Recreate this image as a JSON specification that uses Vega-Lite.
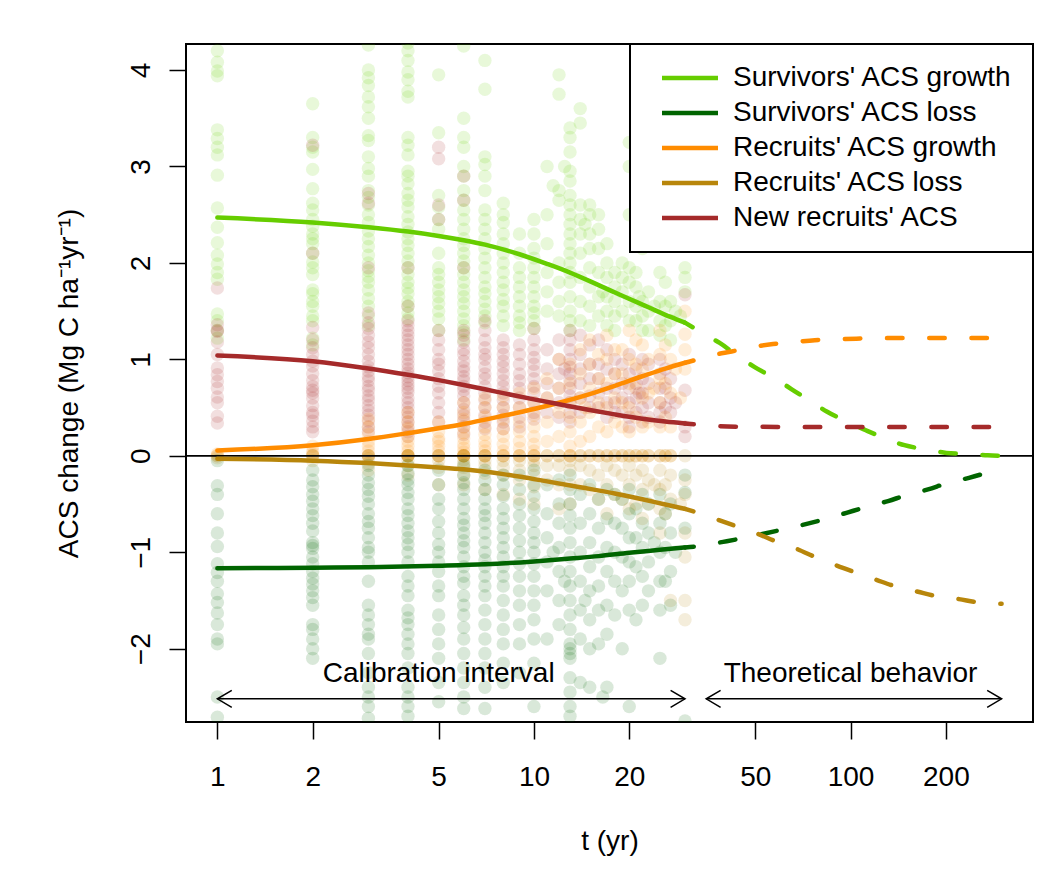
{
"$schema":"https://vega.github.io/schema/vega-lite/v6.json",
"width":847,"height":678,
"autosize":{"type":"none"},
"padding":{"left":186,"top":44,"right":20,"bottom":164},
"background":"white",
"config":{
 "font":"Liberation Sans",
 "view":{"stroke":"black","strokeWidth":2},
 "axis":{"grid":false,"domain":false,"tickColor":"black","tickWidth":1.5,"tickSize":17,"labelFontSize":28,"labelColor":"black","labelFont":"Liberation Sans","titleFont":"Liberation Sans","titleFontSize":28,"titleFontWeight":"normal","titleColor":"black","labelOverlap":false,"labelFlush":false},
 "legend":{"strokeWidth":2}
},
"encoding":{
 "x":{"field":"t","type":"quantitative","scale":{"type":"log","domain":[0.796,377],"nice":false},
      "axis":{"values":[1,2,5,10,20,50,100,200],"format":"d","title":"t (yr)","labelPadding":24,"titlePadding":36}},
 "y":{"field":"v","type":"quantitative","scale":{"domain":[-2.76,4.27],"nice":false,"zero":false},
      "axis":{"values":[-2,-1,0,1,2,3,4],"title":"ACS change (Mg C ha⁻¹yr⁻¹)","labelAngle":-90,"labelAlign":"center","labelBaseline":"alphabetic","labelPadding":20,"titlePadding":44}}
},
"datasets":{
"pts":[
{"t":1,"s":"SG","v":4.2},{"t":1,"s":"SG","v":4.08},{"t":1,"s":"SG","v":3.99},{"t":1,"s":"SG","v":3.94},{"t":1,"s":"SG","v":3.38},{"t":1,"s":"SG","v":3.29},{"t":1,"s":"SG","v":3.2},{"t":1,"s":"SG","v":3.12},{"t":1,"s":"SG","v":2.91},{"t":1,"s":"SG","v":2.57},{"t":1,"s":"SG","v":2.37},{"t":1,"s":"SG","v":2.21},{"t":1,"s":"SG","v":2.08},{"t":1,"s":"SG","v":1.99},{"t":1,"s":"SG","v":1.9},{"t":1,"s":"SG","v":1.83},{"t":1,"s":"SG","v":1.47},{"t":1,"s":"SG","v":1.4},{"t":1,"s":"SG","v":1.3},{"t":1,"s":"SG","v":1.22},
{"t":1,"s":"NR","v":1.74},{"t":1,"s":"NR","v":1.36},{"t":1,"s":"NR","v":1.29},{"t":1,"s":"NR","v":1.18},{"t":1,"s":"NR","v":1.05},{"t":1,"s":"NR","v":0.91},{"t":1,"s":"NR","v":0.84},{"t":1,"s":"NR","v":0.77},{"t":1,"s":"NR","v":0.7},{"t":1,"s":"NR","v":0.61},{"t":1,"s":"NR","v":0.55},{"t":1,"s":"NR","v":0.41},{"t":1,"s":"NR","v":0.34},{"t":1,"s":"NR","v":1.3},
{"t":1,"s":"RG","v":0},{"t":1,"s":"RG","v":0.02},{"t":1,"s":"RL","v":0},{"t":1,"s":"RL","v":-0.02},
{"t":1,"s":"SL","v":-0.05},{"t":1,"s":"SL","v":-0.31},{"t":1,"s":"SL","v":-0.4},{"t":1,"s":"SL","v":-0.6},{"t":1,"s":"SL","v":-0.8},{"t":1,"s":"SL","v":-0.94},{"t":1,"s":"SL","v":-1.12},{"t":1,"s":"SL","v":-1.21},{"t":1,"s":"SL","v":-1.3},{"t":1,"s":"SL","v":-1.43},{"t":1,"s":"SL","v":-1.52},{"t":1,"s":"SL","v":-1.63},{"t":1,"s":"SL","v":-1.75},{"t":1,"s":"SL","v":-1.9},{"t":1,"s":"SL","v":-1.95},{"t":1,"s":"SL","v":-2.5},{"t":1,"s":"SL","v":-2.71},
{"t":2,"s":"SG","v":3.65},{"t":2,"s":"SG","v":3.3},{"t":2,"s":"SG","v":3.2},{"t":2,"s":"SG","v":3.15},{"t":2,"s":"SG","v":2.97},{"t":2,"s":"SG","v":2.77},{"t":2,"s":"SG","v":2.62},{"t":2,"s":"SG","v":2.55},{"t":2,"s":"SG","v":2.45},{"t":2,"s":"SG","v":2.38},{"t":2,"s":"SG","v":2.3},{"t":2,"s":"SG","v":2.25},{"t":2,"s":"SG","v":2.2},{"t":2,"s":"SG","v":2.1},{"t":2,"s":"SG","v":2.01},{"t":2,"s":"SG","v":1.95},{"t":2,"s":"SG","v":1.88},{"t":2,"s":"SG","v":1.72},{"t":2,"s":"SG","v":1.68},{"t":2,"s":"SG","v":1.6},{"t":2,"s":"SG","v":1.55},{"t":2,"s":"SG","v":1.45},{"t":2,"s":"SG","v":1.4},{"t":2,"s":"SG","v":1.22},{"t":2,"s":"SG","v":1.15},
{"t":2,"s":"NR","v":3.22},{"t":2,"s":"NR","v":2.1},{"t":2,"s":"NR","v":1.33},{"t":2,"s":"NR","v":1.2},{"t":2,"s":"NR","v":1.12},{"t":2,"s":"NR","v":1.05},{"t":2,"s":"NR","v":0.98},{"t":2,"s":"NR","v":0.93},{"t":2,"s":"NR","v":0.85},{"t":2,"s":"NR","v":0.78},{"t":2,"s":"NR","v":0.72},{"t":2,"s":"NR","v":0.68},{"t":2,"s":"NR","v":0.65},{"t":2,"s":"NR","v":0.6},{"t":2,"s":"NR","v":0.52},{"t":2,"s":"NR","v":0.45},{"t":2,"s":"NR","v":0.42},{"t":2,"s":"NR","v":0.36},{"t":2,"s":"NR","v":0.3},{"t":2,"s":"NR","v":0.25},
{"t":2,"s":"RG","v":0},{"t":2,"s":"RG","v":0.02},{"t":2,"s":"RG","v":0.05},{"t":2,"s":"RG","v":0.1},{"t":2,"s":"RL","v":0},{"t":2,"s":"RL","v":0},{"t":2,"s":"RL","v":-0.05},
{"t":2,"s":"SL","v":-0.15},{"t":2,"s":"SL","v":-0.25},{"t":2,"s":"SL","v":-0.32},{"t":2,"s":"SL","v":-0.4},{"t":2,"s":"SL","v":-0.47},{"t":2,"s":"SL","v":-0.55},{"t":2,"s":"SL","v":-0.62},{"t":2,"s":"SL","v":-0.7},{"t":2,"s":"SL","v":-0.78},{"t":2,"s":"SL","v":-0.9},{"t":2,"s":"SL","v":-0.93},{"t":2,"s":"SL","v":-0.96},{"t":2,"s":"SL","v":-1.05},{"t":2,"s":"SL","v":-1.12},{"t":2,"s":"SL","v":-1.2},{"t":2,"s":"SL","v":-1.27},{"t":2,"s":"SL","v":-1.33},{"t":2,"s":"SL","v":-1.4},{"t":2,"s":"SL","v":-1.47},{"t":2,"s":"SL","v":-1.55},{"t":2,"s":"SL","v":-1.75},{"t":2,"s":"SL","v":-1.8},{"t":2,"s":"SL","v":-1.9},{"t":2,"s":"SL","v":-2.0},{"t":2,"s":"SL","v":-2.1},
{"t":3,"s":"SG","v":4.26},{"t":3,"s":"SG","v":4.0},{"t":3,"s":"SG","v":3.92},{"t":3,"s":"SG","v":3.84},{"t":3,"s":"SG","v":3.72},{"t":3,"s":"SG","v":3.62},{"t":3,"s":"SG","v":3.5},{"t":3,"s":"SG","v":3.32},{"t":3,"s":"SG","v":3.27},{"t":3,"s":"SG","v":3.1},{"t":3,"s":"SG","v":2.98},{"t":3,"s":"SG","v":2.9},{"t":3,"s":"SG","v":2.75},{"t":3,"s":"SG","v":2.68},{"t":3,"s":"SG","v":2.6},{"t":3,"s":"SG","v":2.5},{"t":3,"s":"SG","v":2.42},{"t":3,"s":"SG","v":2.33},{"t":3,"s":"SG","v":2.25},{"t":3,"s":"SG","v":2.17},{"t":3,"s":"SG","v":2.08},{"t":3,"s":"SG","v":2.0},{"t":3,"s":"SG","v":1.92},{"t":3,"s":"SG","v":1.86},{"t":3,"s":"SG","v":1.8},{"t":3,"s":"SG","v":1.72},{"t":3,"s":"SG","v":1.63},{"t":3,"s":"SG","v":1.55},{"t":3,"s":"SG","v":1.45},{"t":3,"s":"SG","v":1.35},
{"t":3,"s":"NR","v":2.72},{"t":3,"s":"NR","v":2.62},{"t":3,"s":"NR","v":1.95},{"t":3,"s":"NR","v":1.48},{"t":3,"s":"NR","v":1.38},{"t":3,"s":"NR","v":1.32},{"t":3,"s":"NR","v":1.25},{"t":3,"s":"NR","v":1.18},{"t":3,"s":"NR","v":1.12},{"t":3,"s":"NR","v":1.05},{"t":3,"s":"NR","v":0.98},{"t":3,"s":"NR","v":0.92},{"t":3,"s":"NR","v":0.88},{"t":3,"s":"NR","v":0.82},{"t":3,"s":"NR","v":0.78},{"t":3,"s":"NR","v":0.72},{"t":3,"s":"NR","v":0.68},{"t":3,"s":"NR","v":0.62},{"t":3,"s":"NR","v":0.58},{"t":3,"s":"NR","v":0.52},{"t":3,"s":"NR","v":0.47},{"t":3,"s":"NR","v":0.42},{"t":3,"s":"NR","v":0.36},{"t":3,"s":"NR","v":0.3},{"t":3,"s":"NR","v":0.25},
{"t":3,"s":"RG","v":0},{"t":3,"s":"RG","v":0},{"t":3,"s":"RG","v":0.05},{"t":3,"s":"RG","v":0.1},{"t":3,"s":"RG","v":0.15},{"t":3,"s":"RG","v":0.22},{"t":3,"s":"RG","v":0.3},{"t":3,"s":"RG","v":0.38},
{"t":3,"s":"RL","v":0},{"t":3,"s":"RL","v":0},{"t":3,"s":"RL","v":-0.03},{"t":3,"s":"RL","v":-0.08},{"t":3,"s":"RL","v":-0.15},
{"t":3,"s":"SL","v":-0.1},{"t":3,"s":"SL","v":-0.2},{"t":3,"s":"SL","v":-0.28},{"t":3,"s":"SL","v":-0.35},{"t":3,"s":"SL","v":-0.42},{"t":3,"s":"SL","v":-0.5},{"t":3,"s":"SL","v":-0.6},{"t":3,"s":"SL","v":-0.68},{"t":3,"s":"SL","v":-0.75},{"t":3,"s":"SL","v":-0.85},{"t":3,"s":"SL","v":-0.95},{"t":3,"s":"SL","v":-1.0},{"t":3,"s":"SL","v":-1.1},{"t":3,"s":"SL","v":-1.3},{"t":3,"s":"SL","v":-1.55},{"t":3,"s":"SL","v":-1.65},{"t":3,"s":"SL","v":-1.75},{"t":3,"s":"SL","v":-1.85},{"t":3,"s":"SL","v":-1.9},{"t":3,"s":"SL","v":-2.05},{"t":3,"s":"SL","v":-2.25},{"t":3,"s":"SL","v":-2.4},{"t":3,"s":"SL","v":-2.5},{"t":3,"s":"SL","v":-2.6},{"t":3,"s":"SL","v":-2.72},
{"t":4,"s":"SG","v":4.28},{"t":4,"s":"SG","v":4.2},{"t":4,"s":"SG","v":4.1},{"t":4,"s":"SG","v":3.98},{"t":4,"s":"SG","v":3.9},{"t":4,"s":"SG","v":3.78},{"t":4,"s":"SG","v":3.72},{"t":4,"s":"SG","v":3.3},{"t":4,"s":"SG","v":3.22},{"t":4,"s":"SG","v":3.12},{"t":4,"s":"SG","v":2.95},{"t":4,"s":"SG","v":2.9},{"t":4,"s":"SG","v":2.82},{"t":4,"s":"SG","v":2.72},{"t":4,"s":"SG","v":2.65},{"t":4,"s":"SG","v":2.58},{"t":4,"s":"SG","v":2.48},{"t":4,"s":"SG","v":2.4},{"t":4,"s":"SG","v":2.32},{"t":4,"s":"SG","v":2.25},{"t":4,"s":"SG","v":2.18},{"t":4,"s":"SG","v":2.1},{"t":4,"s":"SG","v":2.02},{"t":4,"s":"SG","v":1.95},{"t":4,"s":"SG","v":1.88},{"t":4,"s":"SG","v":1.8},{"t":4,"s":"SG","v":1.74},{"t":4,"s":"SG","v":1.68},{"t":4,"s":"SG","v":1.6},{"t":4,"s":"SG","v":1.55},{"t":4,"s":"SG","v":1.48},{"t":4,"s":"SG","v":1.42},
{"t":4,"s":"NR","v":1.95},{"t":4,"s":"NR","v":1.55},{"t":4,"s":"NR","v":1.4},{"t":4,"s":"NR","v":1.35},{"t":4,"s":"NR","v":1.3},{"t":4,"s":"NR","v":1.25},{"t":4,"s":"NR","v":1.2},{"t":4,"s":"NR","v":1.15},{"t":4,"s":"NR","v":1.1},{"t":4,"s":"NR","v":1.05},{"t":4,"s":"NR","v":1.0},{"t":4,"s":"NR","v":0.95},{"t":4,"s":"NR","v":0.9},{"t":4,"s":"NR","v":0.86},{"t":4,"s":"NR","v":0.82},{"t":4,"s":"NR","v":0.78},{"t":4,"s":"NR","v":0.74},{"t":4,"s":"NR","v":0.7},{"t":4,"s":"NR","v":0.66},{"t":4,"s":"NR","v":0.6},{"t":4,"s":"NR","v":0.55},{"t":4,"s":"NR","v":0.5},{"t":4,"s":"NR","v":0.45},{"t":4,"s":"NR","v":0.4},{"t":4,"s":"NR","v":0.35},{"t":4,"s":"NR","v":0.3},{"t":4,"s":"NR","v":0.25},{"t":4,"s":"NR","v":0.2},
{"t":4,"s":"RG","v":0},{"t":4,"s":"RG","v":0},{"t":4,"s":"RG","v":0},{"t":4,"s":"RG","v":0.05},{"t":4,"s":"RG","v":0.1},{"t":4,"s":"RG","v":0.15},{"t":4,"s":"RG","v":0.2},{"t":4,"s":"RG","v":0.28},{"t":4,"s":"RG","v":0.35},{"t":4,"s":"RG","v":0.45},
{"t":4,"s":"RL","v":0},{"t":4,"s":"RL","v":0},{"t":4,"s":"RL","v":0},{"t":4,"s":"RL","v":-0.05},{"t":4,"s":"RL","v":-0.1},{"t":4,"s":"RL","v":-0.2},
{"t":4,"s":"SL","v":-0.1},{"t":4,"s":"SL","v":-0.18},{"t":4,"s":"SL","v":-0.25},{"t":4,"s":"SL","v":-0.3},{"t":4,"s":"SL","v":-0.38},{"t":4,"s":"SL","v":-0.45},{"t":4,"s":"SL","v":-0.55},{"t":4,"s":"SL","v":-0.62},{"t":4,"s":"SL","v":-0.7},{"t":4,"s":"SL","v":-0.78},{"t":4,"s":"SL","v":-0.85},{"t":4,"s":"SL","v":-0.92},{"t":4,"s":"SL","v":-1.0},{"t":4,"s":"SL","v":-1.1},{"t":4,"s":"SL","v":-1.25},{"t":4,"s":"SL","v":-1.35},{"t":4,"s":"SL","v":-1.45},{"t":4,"s":"SL","v":-1.6},{"t":4,"s":"SL","v":-1.68},{"t":4,"s":"SL","v":-1.75},{"t":4,"s":"SL","v":-1.85},{"t":4,"s":"SL","v":-1.95},{"t":4,"s":"SL","v":-2.05},{"t":4,"s":"SL","v":-2.2},{"t":4,"s":"SL","v":-2.4},{"t":4,"s":"SL","v":-2.5},{"t":4,"s":"SL","v":-2.6},{"t":4,"s":"SL","v":-2.7},
{"t":5,"s":"SG","v":3.95},{"t":5,"s":"SG","v":3.35},{"t":5,"s":"SG","v":2.7},{"t":5,"s":"SG","v":2.58},{"t":5,"s":"SG","v":2.45},{"t":5,"s":"SG","v":2.35},{"t":5,"s":"SG","v":2.1},{"t":5,"s":"SG","v":1.95},{"t":5,"s":"SG","v":1.88},{"t":5,"s":"SG","v":1.8},{"t":5,"s":"SG","v":1.72},{"t":5,"s":"SG","v":1.65},{"t":5,"s":"SG","v":1.58},{"t":5,"s":"SG","v":1.5},{"t":5,"s":"SG","v":1.42},{"t":5,"s":"SG","v":1.3},
{"t":5,"s":"NR","v":3.2},{"t":5,"s":"NR","v":3.08},{"t":5,"s":"NR","v":2.6},{"t":5,"s":"NR","v":2.45},{"t":5,"s":"NR","v":1.3},{"t":5,"s":"NR","v":1.2},{"t":5,"s":"NR","v":1.1},{"t":5,"s":"NR","v":1.0},{"t":5,"s":"NR","v":0.95},{"t":5,"s":"NR","v":0.88},{"t":5,"s":"NR","v":0.8},{"t":5,"s":"NR","v":0.72},{"t":5,"s":"NR","v":0.65},{"t":5,"s":"NR","v":0.55},{"t":5,"s":"NR","v":0.45},{"t":5,"s":"NR","v":0.35},
{"t":5,"s":"RG","v":0},{"t":5,"s":"RG","v":0},{"t":5,"s":"RG","v":0.05},{"t":5,"s":"RG","v":0.1},{"t":5,"s":"RG","v":0.15},{"t":5,"s":"RG","v":0.18},{"t":5,"s":"RG","v":0.25},{"t":5,"s":"RG","v":0.35},
{"t":5,"s":"RL","v":0},{"t":5,"s":"RL","v":0},{"t":5,"s":"RL","v":-0.05},{"t":5,"s":"RL","v":-0.12},{"t":5,"s":"RL","v":-0.3},
{"t":5,"s":"SL","v":-0.15},{"t":5,"s":"SL","v":-0.3},{"t":5,"s":"SL","v":-0.45},{"t":5,"s":"SL","v":-0.55},{"t":5,"s":"SL","v":-0.68},{"t":5,"s":"SL","v":-0.8},{"t":5,"s":"SL","v":-0.92},{"t":5,"s":"SL","v":-1.0},{"t":5,"s":"SL","v":-1.1},{"t":5,"s":"SL","v":-1.2},{"t":5,"s":"SL","v":-1.35},{"t":5,"s":"SL","v":-1.45},{"t":5,"s":"SL","v":-1.65},{"t":5,"s":"SL","v":-1.8},{"t":5,"s":"SL","v":-1.95},{"t":5,"s":"SL","v":-2.1},{"t":5,"s":"SL","v":-2.35},{"t":5,"s":"SL","v":-2.55},
{"t":6,"s":"SG","v":4.25},{"t":6,"s":"SG","v":3.5},{"t":6,"s":"SG","v":3.3},{"t":6,"s":"SG","v":3.2},{"t":6,"s":"SG","v":3.0},{"t":6,"s":"SG","v":2.9},{"t":6,"s":"SG","v":2.75},{"t":6,"s":"SG","v":2.65},{"t":6,"s":"SG","v":2.55},{"t":6,"s":"SG","v":2.45},{"t":6,"s":"SG","v":2.35},{"t":6,"s":"SG","v":2.25},{"t":6,"s":"SG","v":2.18},{"t":6,"s":"SG","v":2.1},{"t":6,"s":"SG","v":2.02},{"t":6,"s":"SG","v":1.95},{"t":6,"s":"SG","v":1.88},{"t":6,"s":"SG","v":1.8},{"t":6,"s":"SG","v":1.72},{"t":6,"s":"SG","v":1.65},{"t":6,"s":"SG","v":1.58},{"t":6,"s":"SG","v":1.5},{"t":6,"s":"SG","v":1.42},{"t":6,"s":"SG","v":1.35},{"t":6,"s":"SG","v":1.28},{"t":6,"s":"SG","v":1.2},
{"t":6,"s":"NR","v":2.9},{"t":6,"s":"NR","v":2.65},{"t":6,"s":"NR","v":1.95},{"t":6,"s":"NR","v":1.3},{"t":6,"s":"NR","v":1.25},{"t":6,"s":"NR","v":1.18},{"t":6,"s":"NR","v":1.1},{"t":6,"s":"NR","v":1.05},{"t":6,"s":"NR","v":0.98},{"t":6,"s":"NR","v":0.92},{"t":6,"s":"NR","v":0.88},{"t":6,"s":"NR","v":0.82},{"t":6,"s":"NR","v":0.78},{"t":6,"s":"NR","v":0.72},{"t":6,"s":"NR","v":0.68},{"t":6,"s":"NR","v":0.62},{"t":6,"s":"NR","v":0.55},{"t":6,"s":"NR","v":0.48},{"t":6,"s":"NR","v":0.42},{"t":6,"s":"NR","v":0.36},{"t":6,"s":"NR","v":0.3},{"t":6,"s":"NR","v":0.22},
{"t":6,"s":"RG","v":0},{"t":6,"s":"RG","v":0},{"t":6,"s":"RG","v":0},{"t":6,"s":"RG","v":0.04},{"t":6,"s":"RG","v":0.08},{"t":6,"s":"RG","v":0.12},{"t":6,"s":"RG","v":0.18},{"t":6,"s":"RG","v":0.24},{"t":6,"s":"RG","v":0.3},{"t":6,"s":"RG","v":0.38},{"t":6,"s":"RG","v":0.45},{"t":6,"s":"RG","v":0.55},
{"t":6,"s":"RL","v":0},{"t":6,"s":"RL","v":0},{"t":6,"s":"RL","v":0},{"t":6,"s":"RL","v":-0.04},{"t":6,"s":"RL","v":-0.08},{"t":6,"s":"RL","v":-0.12},{"t":6,"s":"RL","v":-0.2},{"t":6,"s":"RL","v":-0.3},
{"t":6,"s":"SL","v":-0.1},{"t":6,"s":"SL","v":-0.2},{"t":6,"s":"SL","v":-0.28},{"t":6,"s":"SL","v":-0.35},{"t":6,"s":"SL","v":-0.45},{"t":6,"s":"SL","v":-0.55},{"t":6,"s":"SL","v":-0.65},{"t":6,"s":"SL","v":-0.72},{"t":6,"s":"SL","v":-0.8},{"t":6,"s":"SL","v":-0.88},{"t":6,"s":"SL","v":-0.95},{"t":6,"s":"SL","v":-1.05},{"t":6,"s":"SL","v":-1.15},{"t":6,"s":"SL","v":-1.25},{"t":6,"s":"SL","v":-1.32},{"t":6,"s":"SL","v":-1.45},{"t":6,"s":"SL","v":-1.55},{"t":6,"s":"SL","v":-1.65},{"t":6,"s":"SL","v":-1.78},{"t":6,"s":"SL","v":-1.9},{"t":6,"s":"SL","v":-2.05},{"t":6,"s":"SL","v":-2.2},{"t":6,"s":"SL","v":-2.35},{"t":6,"s":"SL","v":-2.5},{"t":6,"s":"SL","v":-2.62},
{"t":7,"s":"SG","v":4.1},{"t":7,"s":"SG","v":3.8},{"t":7,"s":"SG","v":3.1},{"t":7,"s":"SG","v":3.02},{"t":7,"s":"SG","v":2.9},{"t":7,"s":"SG","v":2.75},{"t":7,"s":"SG","v":2.55},{"t":7,"s":"SG","v":2.45},{"t":7,"s":"SG","v":2.35},{"t":7,"s":"SG","v":2.25},{"t":7,"s":"SG","v":2.15},{"t":7,"s":"SG","v":2.05},{"t":7,"s":"SG","v":1.95},{"t":7,"s":"SG","v":1.85},{"t":7,"s":"SG","v":1.75},{"t":7,"s":"SG","v":1.68},{"t":7,"s":"SG","v":1.6},{"t":7,"s":"SG","v":1.52},{"t":7,"s":"SG","v":1.45},{"t":7,"s":"SG","v":1.38},
{"t":7,"s":"NR","v":1.4},{"t":7,"s":"NR","v":1.3},{"t":7,"s":"NR","v":1.2},{"t":7,"s":"NR","v":1.12},{"t":7,"s":"NR","v":1.05},{"t":7,"s":"NR","v":1.0},{"t":7,"s":"NR","v":0.92},{"t":7,"s":"NR","v":0.85},{"t":7,"s":"NR","v":0.8},{"t":7,"s":"NR","v":0.72},{"t":7,"s":"NR","v":0.65},{"t":7,"s":"NR","v":0.58},{"t":7,"s":"NR","v":0.5},{"t":7,"s":"NR","v":0.42},{"t":7,"s":"NR","v":0.35},{"t":7,"s":"NR","v":0.28},
{"t":7,"s":"RG","v":0},{"t":7,"s":"RG","v":0},{"t":7,"s":"RG","v":0.05},{"t":7,"s":"RG","v":0.1},{"t":7,"s":"RG","v":0.15},{"t":7,"s":"RG","v":0.22},{"t":7,"s":"RG","v":0.3},{"t":7,"s":"RG","v":0.4},{"t":7,"s":"RG","v":0.5},{"t":7,"s":"RG","v":0.6},
{"t":7,"s":"RL","v":0},{"t":7,"s":"RL","v":0},{"t":7,"s":"RL","v":-0.05},{"t":7,"s":"RL","v":-0.1},{"t":7,"s":"RL","v":-0.18},{"t":7,"s":"RL","v":-0.35},
{"t":7,"s":"SL","v":-0.15},{"t":7,"s":"SL","v":-0.25},{"t":7,"s":"SL","v":-0.35},{"t":7,"s":"SL","v":-0.45},{"t":7,"s":"SL","v":-0.55},{"t":7,"s":"SL","v":-0.62},{"t":7,"s":"SL","v":-0.7},{"t":7,"s":"SL","v":-0.8},{"t":7,"s":"SL","v":-0.9},{"t":7,"s":"SL","v":-1.0},{"t":7,"s":"SL","v":-1.08},{"t":7,"s":"SL","v":-1.15},{"t":7,"s":"SL","v":-1.25},{"t":7,"s":"SL","v":-1.35},{"t":7,"s":"SL","v":-1.45},{"t":7,"s":"SL","v":-1.6},{"t":7,"s":"SL","v":-1.75},{"t":7,"s":"SL","v":-1.9},{"t":7,"s":"SL","v":-2.05},{"t":7,"s":"SL","v":-2.2},{"t":7,"s":"SL","v":-2.4},{"t":7,"s":"SL","v":-2.62},
{"t":8,"s":"SG","v":2.62},{"t":8,"s":"SG","v":2.5},{"t":8,"s":"SG","v":2.42},{"t":8,"s":"SG","v":2.3},{"t":8,"s":"SG","v":2.2},{"t":8,"s":"SG","v":2.1},{"t":8,"s":"SG","v":2.0},{"t":8,"s":"SG","v":1.9},{"t":8,"s":"SG","v":1.8},{"t":8,"s":"SG","v":1.72},{"t":8,"s":"SG","v":1.62},{"t":8,"s":"SG","v":1.55},{"t":8,"s":"SG","v":1.45},{"t":8,"s":"SG","v":1.35},
{"t":8,"s":"NR","v":1.2},{"t":8,"s":"NR","v":1.12},{"t":8,"s":"NR","v":1.05},{"t":8,"s":"NR","v":0.98},{"t":8,"s":"NR","v":0.92},{"t":8,"s":"NR","v":0.85},{"t":8,"s":"NR","v":0.78},{"t":8,"s":"NR","v":0.72},{"t":8,"s":"NR","v":0.65},{"t":8,"s":"NR","v":0.58},{"t":8,"s":"NR","v":0.5},{"t":8,"s":"NR","v":0.42},{"t":8,"s":"NR","v":0.35},{"t":8,"s":"NR","v":0.28},
{"t":8,"s":"RG","v":0},{"t":8,"s":"RG","v":0},{"t":8,"s":"RG","v":0.05},{"t":8,"s":"RG","v":0.12},{"t":8,"s":"RG","v":0.2},{"t":8,"s":"RG","v":0.28},{"t":8,"s":"RG","v":0.38},{"t":8,"s":"RG","v":0.5},{"t":8,"s":"RG","v":0.62},
{"t":8,"s":"RL","v":0},{"t":8,"s":"RL","v":-0.05},{"t":8,"s":"RL","v":-0.12},{"t":8,"s":"RL","v":-0.2},{"t":8,"s":"RL","v":-0.4},
{"t":8,"s":"SL","v":-0.2},{"t":8,"s":"SL","v":-0.3},{"t":8,"s":"SL","v":-0.42},{"t":8,"s":"SL","v":-0.55},{"t":8,"s":"SL","v":-0.65},{"t":8,"s":"SL","v":-0.75},{"t":8,"s":"SL","v":-0.85},{"t":8,"s":"SL","v":-0.95},{"t":8,"s":"SL","v":-1.05},{"t":8,"s":"SL","v":-1.15},{"t":8,"s":"SL","v":-1.25},{"t":8,"s":"SL","v":-1.35},{"t":8,"s":"SL","v":-1.5},{"t":8,"s":"SL","v":-1.65},{"t":8,"s":"SL","v":-1.8},{"t":8,"s":"SL","v":-1.95},{"t":8,"s":"SL","v":-2.15},{"t":8,"s":"SL","v":-2.35},
{"t":9,"s":"SG","v":2.3},{"t":9,"s":"SG","v":2.1},{"t":9,"s":"SG","v":1.95},{"t":9,"s":"SG","v":1.85},{"t":9,"s":"SG","v":1.75},{"t":9,"s":"SG","v":1.65},{"t":9,"s":"SG","v":1.55},{"t":9,"s":"SG","v":1.45},{"t":9,"s":"SG","v":1.38},{"t":9,"s":"SG","v":1.3},
{"t":9,"s":"NR","v":1.15},{"t":9,"s":"NR","v":1.05},{"t":9,"s":"NR","v":0.95},{"t":9,"s":"NR","v":0.85},{"t":9,"s":"NR","v":0.78},{"t":9,"s":"NR","v":0.7},{"t":9,"s":"NR","v":0.6},{"t":9,"s":"NR","v":0.5},{"t":9,"s":"NR","v":0.4},{"t":9,"s":"NR","v":0.3},
{"t":9,"s":"RG","v":0},{"t":9,"s":"RG","v":0},{"t":9,"s":"RG","v":0.08},{"t":9,"s":"RG","v":0.15},{"t":9,"s":"RG","v":0.25},{"t":9,"s":"RG","v":0.35},{"t":9,"s":"RG","v":0.5},{"t":9,"s":"RG","v":0.65},
{"t":9,"s":"RL","v":0},{"t":9,"s":"RL","v":-0.05},{"t":9,"s":"RL","v":-0.15},{"t":9,"s":"RL","v":-0.25},{"t":9,"s":"RL","v":-0.45},
{"t":9,"s":"SL","v":-0.2},{"t":9,"s":"SL","v":-0.35},{"t":9,"s":"SL","v":-0.5},{"t":9,"s":"SL","v":-0.62},{"t":9,"s":"SL","v":-0.75},{"t":9,"s":"SL","v":-0.88},{"t":9,"s":"SL","v":-1.0},{"t":9,"s":"SL","v":-1.12},{"t":9,"s":"SL","v":-1.25},{"t":9,"s":"SL","v":-1.4},{"t":9,"s":"SL","v":-1.55},{"t":9,"s":"SL","v":-1.75},{"t":9,"s":"SL","v":-1.95},{"t":9,"s":"SL","v":-2.25},
{"t":10,"s":"SG","v":2.45},{"t":10,"s":"SG","v":2.3},{"t":10,"s":"SG","v":2.15},{"t":10,"s":"SG","v":2.05},{"t":10,"s":"SG","v":1.95},{"t":10,"s":"SG","v":1.85},{"t":10,"s":"SG","v":1.75},{"t":10,"s":"SG","v":1.65},{"t":10,"s":"SG","v":1.55},{"t":10,"s":"SG","v":1.48},{"t":10,"s":"SG","v":1.4},{"t":10,"s":"SG","v":1.32},
{"t":10,"s":"NR","v":1.32},{"t":10,"s":"NR","v":1.2},{"t":10,"s":"NR","v":1.1},{"t":10,"s":"NR","v":1.02},{"t":10,"s":"NR","v":0.95},{"t":10,"s":"NR","v":0.88},{"t":10,"s":"NR","v":0.8},{"t":10,"s":"NR","v":0.72},{"t":10,"s":"NR","v":0.65},{"t":10,"s":"NR","v":0.55},{"t":10,"s":"NR","v":0.45},{"t":10,"s":"NR","v":0.38},
{"t":10,"s":"RG","v":0},{"t":10,"s":"RG","v":0},{"t":10,"s":"RG","v":0.05},{"t":10,"s":"RG","v":0.12},{"t":10,"s":"RG","v":0.2},{"t":10,"s":"RG","v":0.3},{"t":10,"s":"RG","v":0.42},{"t":10,"s":"RG","v":0.55},{"t":10,"s":"RG","v":0.7},
{"t":10,"s":"RL","v":0},{"t":10,"s":"RL","v":-0.05},{"t":10,"s":"RL","v":-0.1},{"t":10,"s":"RL","v":-0.2},{"t":10,"s":"RL","v":-0.32},{"t":10,"s":"RL","v":-0.5},
{"t":10,"s":"SL","v":-0.15},{"t":10,"s":"SL","v":-0.3},{"t":10,"s":"SL","v":-0.42},{"t":10,"s":"SL","v":-0.55},{"t":10,"s":"SL","v":-0.68},{"t":10,"s":"SL","v":-0.8},{"t":10,"s":"SL","v":-0.9},{"t":10,"s":"SL","v":-1.0},{"t":10,"s":"SL","v":-1.12},{"t":10,"s":"SL","v":-1.25},{"t":10,"s":"SL","v":-1.4},{"t":10,"s":"SL","v":-1.55},{"t":10,"s":"SL","v":-1.7},{"t":10,"s":"SL","v":-1.9},{"t":10,"s":"SL","v":-2.15},{"t":10,"s":"SL","v":-2.6},
{"t":11,"s":"SG","v":3.0},{"t":11,"s":"SG","v":2.5},{"t":11,"s":"SG","v":2.2},{"t":11,"s":"SG","v":1.9},{"t":11,"s":"SG","v":1.7},{"t":11,"s":"SG","v":1.5},
{"t":11,"s":"NR","v":1.1},{"t":11,"s":"NR","v":0.9},{"t":11,"s":"NR","v":0.75},{"t":11,"s":"NR","v":0.6},{"t":11,"s":"NR","v":0.45},
{"t":11,"s":"RG","v":0},{"t":11,"s":"RG","v":0.15},{"t":11,"s":"RG","v":0.35},{"t":11,"s":"RG","v":0.6},{"t":11,"s":"RG","v":0.8},
{"t":11,"s":"RL","v":0},{"t":11,"s":"RL","v":-0.1},{"t":11,"s":"RL","v":-0.25},
{"t":11,"s":"SL","v":-0.3},{"t":11,"s":"SL","v":-0.6},{"t":11,"s":"SL","v":-0.85},{"t":11,"s":"SL","v":-1.1},{"t":11,"s":"SL","v":-1.4},{"t":11,"s":"SL","v":-1.9},
{"t":12,"s":"SG","v":3.95},{"t":12,"s":"SG","v":3.75},{"t":12,"s":"SG","v":2.75},{"t":12,"s":"SG","v":2.65},{"t":12,"s":"SG","v":2.0},{"t":12,"s":"SG","v":1.8},{"t":12,"s":"SG","v":1.6},{"t":12,"s":"SG","v":1.45},
{"t":12,"s":"NR","v":1.2},{"t":12,"s":"NR","v":1.0},{"t":12,"s":"NR","v":0.85},{"t":12,"s":"NR","v":0.7},{"t":12,"s":"NR","v":0.55},{"t":12,"s":"NR","v":0.4},
{"t":12,"s":"RG","v":0},{"t":12,"s":"RG","v":0.2},{"t":12,"s":"RG","v":0.45},{"t":12,"s":"RG","v":0.7},{"t":12,"s":"RG","v":1.0},
{"t":12,"s":"RL","v":0},{"t":12,"s":"RL","v":-0.1},{"t":12,"s":"RL","v":-0.3},{"t":12,"s":"RL","v":-0.55},
{"t":12,"s":"SL","v":-0.25},{"t":12,"s":"SL","v":-0.5},{"t":12,"s":"SL","v":-0.7},{"t":12,"s":"SL","v":-0.95},{"t":12,"s":"SL","v":-1.2},{"t":12,"s":"SL","v":-1.5},{"t":12,"s":"SL","v":-1.75},
{"t":13,"s":"SG","v":3.4},{"t":13,"s":"SG","v":3.3},{"t":13,"s":"SG","v":3.15},{"t":13,"s":"SG","v":2.95},{"t":13,"s":"SG","v":2.85},{"t":13,"s":"SG","v":2.7},{"t":13,"s":"SG","v":2.6},{"t":13,"s":"SG","v":2.5},{"t":13,"s":"SG","v":2.4},{"t":13,"s":"SG","v":2.3},{"t":13,"s":"SG","v":2.2},{"t":13,"s":"SG","v":2.1},{"t":13,"s":"SG","v":2.0},{"t":13,"s":"SG","v":1.9},{"t":13,"s":"SG","v":1.8},{"t":13,"s":"SG","v":1.65},{"t":13,"s":"SG","v":1.5},{"t":13,"s":"SG","v":1.4},{"t":13,"s":"SG","v":1.3},
{"t":13,"s":"NR","v":1.3},{"t":13,"s":"NR","v":1.2},{"t":13,"s":"NR","v":1.1},{"t":13,"s":"NR","v":1.0},{"t":13,"s":"NR","v":0.92},{"t":13,"s":"NR","v":0.85},{"t":13,"s":"NR","v":0.78},{"t":13,"s":"NR","v":0.7},{"t":13,"s":"NR","v":0.62},{"t":13,"s":"NR","v":0.55},{"t":13,"s":"NR","v":0.45},{"t":13,"s":"NR","v":0.35},
{"t":13,"s":"RG","v":0},{"t":13,"s":"RG","v":0},{"t":13,"s":"RG","v":0.1},{"t":13,"s":"RG","v":0.25},{"t":13,"s":"RG","v":0.4},{"t":13,"s":"RG","v":0.55},{"t":13,"s":"RG","v":0.75},{"t":13,"s":"RG","v":0.95},
{"t":13,"s":"RL","v":0},{"t":13,"s":"RL","v":-0.05},{"t":13,"s":"RL","v":-0.15},{"t":13,"s":"RL","v":-0.3},{"t":13,"s":"RL","v":-0.5},
{"t":13,"s":"SL","v":-0.2},{"t":13,"s":"SL","v":-0.35},{"t":13,"s":"SL","v":-0.5},{"t":13,"s":"SL","v":-0.62},{"t":13,"s":"SL","v":-0.75},{"t":13,"s":"SL","v":-0.9},{"t":13,"s":"SL","v":-1.05},{"t":13,"s":"SL","v":-1.2},{"t":13,"s":"SL","v":-1.35},{"t":13,"s":"SL","v":-1.5},{"t":13,"s":"SL","v":-1.65},{"t":13,"s":"SL","v":-1.8},{"t":13,"s":"SL","v":-1.95},{"t":13,"s":"SL","v":-2.0},{"t":13,"s":"SL","v":-2.05},{"t":13,"s":"SL","v":-2.1},{"t":13,"s":"SL","v":-2.3},{"t":13,"s":"SL","v":-2.45},{"t":13,"s":"SL","v":-2.6},{"t":13,"s":"SL","v":-2.7},
{"t":14,"s":"SG","v":3.6},{"t":14,"s":"SG","v":3.45},{"t":14,"s":"SG","v":2.6},{"t":14,"s":"SG","v":2.45},{"t":14,"s":"SG","v":2.3},{"t":14,"s":"SG","v":2.1},{"t":14,"s":"SG","v":1.85},{"t":14,"s":"SG","v":1.6},{"t":14,"s":"SG","v":1.4},
{"t":14,"s":"NR","v":1.25},{"t":14,"s":"NR","v":1.05},{"t":14,"s":"NR","v":0.9},{"t":14,"s":"NR","v":0.75},{"t":14,"s":"NR","v":0.6},{"t":14,"s":"NR","v":0.45},
{"t":14,"s":"RG","v":0},{"t":14,"s":"RG","v":0.15},{"t":14,"s":"RG","v":0.35},{"t":14,"s":"RG","v":0.6},{"t":14,"s":"RG","v":0.85},{"t":14,"s":"RG","v":1.1},
{"t":14,"s":"RL","v":0},{"t":14,"s":"RL","v":-0.1},{"t":14,"s":"RL","v":-0.3},
{"t":14,"s":"SL","v":-0.4},{"t":14,"s":"SL","v":-0.7},{"t":14,"s":"SL","v":-1.0},{"t":14,"s":"SL","v":-1.3},{"t":14,"s":"SL","v":-1.6},{"t":14,"s":"SL","v":-1.9},{"t":14,"s":"SL","v":-2.35},
{"t":15,"s":"SG","v":2.6},{"t":15,"s":"SG","v":2.5},{"t":15,"s":"SG","v":2.3},{"t":15,"s":"SG","v":2.15},{"t":15,"s":"SG","v":1.95},{"t":15,"s":"SG","v":1.75},{"t":15,"s":"SG","v":1.55},{"t":15,"s":"SG","v":1.35},
{"t":15,"s":"NR","v":1.15},{"t":15,"s":"NR","v":0.95},{"t":15,"s":"NR","v":0.8},{"t":15,"s":"NR","v":0.62},{"t":15,"s":"NR","v":0.5},
{"t":15,"s":"RG","v":0},{"t":15,"s":"RG","v":0.2},{"t":15,"s":"RG","v":0.45},{"t":15,"s":"RG","v":0.7},{"t":15,"s":"RG","v":0.95},{"t":15,"s":"RG","v":1.2},
{"t":15,"s":"RL","v":0},{"t":15,"s":"RL","v":-0.15},{"t":15,"s":"RL","v":-0.35},
{"t":15,"s":"SL","v":-0.3},{"t":15,"s":"SL","v":-0.6},{"t":15,"s":"SL","v":-0.9},{"t":15,"s":"SL","v":-1.15},{"t":15,"s":"SL","v":-1.4},{"t":15,"s":"SL","v":-1.7},{"t":15,"s":"SL","v":-2.0},{"t":15,"s":"SL","v":-2.4},
{"t":16,"s":"SG","v":2.5},{"t":16,"s":"SG","v":2.35},{"t":16,"s":"SG","v":2.15},{"t":16,"s":"SG","v":1.9},{"t":16,"s":"SG","v":1.65},{"t":16,"s":"SG","v":1.45},
{"t":16,"s":"NR","v":1.2},{"t":16,"s":"NR","v":0.95},{"t":16,"s":"NR","v":0.8},{"t":16,"s":"NR","v":0.65},{"t":16,"s":"NR","v":0.5},
{"t":16,"s":"RG","v":0},{"t":16,"s":"RG","v":0.3},{"t":16,"s":"RG","v":0.55},{"t":16,"s":"RG","v":0.8},{"t":16,"s":"RG","v":1.05},
{"t":16,"s":"RL","v":0},{"t":16,"s":"RL","v":-0.2},{"t":16,"s":"RL","v":-0.45},
{"t":16,"s":"SL","v":-0.45},{"t":16,"s":"SL","v":-0.75},{"t":16,"s":"SL","v":-1.05},{"t":16,"s":"SL","v":-1.35},{"t":16,"s":"SL","v":-1.6},{"t":16,"s":"SL","v":-1.95},
{"t":17,"s":"SG","v":2.2},{"t":17,"s":"SG","v":2.0},{"t":17,"s":"SG","v":1.85},{"t":17,"s":"SG","v":1.65},{"t":17,"s":"SG","v":1.5},{"t":17,"s":"SG","v":1.35},
{"t":17,"s":"NR","v":1.1},{"t":17,"s":"NR","v":0.9},{"t":17,"s":"NR","v":0.7},{"t":17,"s":"NR","v":0.55},{"t":17,"s":"NR","v":0.4},
{"t":17,"s":"RG","v":0},{"t":17,"s":"RG","v":0.25},{"t":17,"s":"RG","v":0.5},{"t":17,"s":"RG","v":0.75},{"t":17,"s":"RG","v":1.0},{"t":17,"s":"RG","v":1.25},
{"t":17,"s":"RL","v":0},{"t":17,"s":"RL","v":-0.1},{"t":17,"s":"RL","v":-0.3},{"t":17,"s":"RL","v":-0.6},
{"t":17,"s":"SL","v":-0.35},{"t":17,"s":"SL","v":-0.65},{"t":17,"s":"SL","v":-0.95},{"t":17,"s":"SL","v":-1.2},{"t":17,"s":"SL","v":-1.55},{"t":17,"s":"SL","v":-1.85},{"t":17,"s":"SL","v":-2.4},
{"t":18,"s":"SG","v":1.9},{"t":18,"s":"SG","v":1.75},{"t":18,"s":"SG","v":1.6},{"t":18,"s":"SG","v":1.45},{"t":18,"s":"SG","v":1.3},
{"t":18,"s":"NR","v":1.0},{"t":18,"s":"NR","v":0.85},{"t":18,"s":"NR","v":0.7},{"t":18,"s":"NR","v":0.55},{"t":18,"s":"NR","v":0.45},
{"t":18,"s":"RG","v":0},{"t":18,"s":"RG","v":0.35},{"t":18,"s":"RG","v":0.6},{"t":18,"s":"RG","v":0.85},{"t":18,"s":"RG","v":1.1},
{"t":18,"s":"RL","v":0},{"t":18,"s":"RL","v":-0.15},{"t":18,"s":"RL","v":-0.4},
{"t":18,"s":"SL","v":-0.4},{"t":18,"s":"SL","v":-0.7},{"t":18,"s":"SL","v":-1.0},{"t":18,"s":"SL","v":-1.3},{"t":18,"s":"SL","v":-1.65},
{"t":19,"s":"SG","v":2.0},{"t":19,"s":"SG","v":1.85},{"t":19,"s":"SG","v":1.7},{"t":19,"s":"SG","v":1.5},
{"t":19,"s":"NR","v":0.95},{"t":19,"s":"NR","v":0.75},{"t":19,"s":"NR","v":0.6},{"t":19,"s":"NR","v":0.45},
{"t":19,"s":"RG","v":0},{"t":19,"s":"RG","v":0.3},{"t":19,"s":"RG","v":0.55},{"t":19,"s":"RG","v":0.85},{"t":19,"s":"RG","v":1.1},
{"t":19,"s":"RL","v":0},{"t":19,"s":"RL","v":-0.2},{"t":19,"s":"RL","v":-0.45},
{"t":19,"s":"SL","v":-0.45},{"t":19,"s":"SL","v":-0.75},{"t":19,"s":"SL","v":-1.05},{"t":19,"s":"SL","v":-1.4},{"t":19,"s":"SL","v":-2.0},
{"t":20,"s":"SG","v":3.25},{"t":20,"s":"SG","v":3.0},{"t":20,"s":"SG","v":2.5},{"t":20,"s":"SG","v":1.95},{"t":20,"s":"SG","v":1.8},{"t":20,"s":"SG","v":1.6},{"t":20,"s":"SG","v":1.4},
{"t":20,"s":"NR","v":1.05},{"t":20,"s":"NR","v":0.85},{"t":20,"s":"NR","v":0.7},{"t":20,"s":"NR","v":0.55},{"t":20,"s":"NR","v":0.4},{"t":20,"s":"NR","v":0.3},
{"t":20,"s":"RG","v":0},{"t":20,"s":"RG","v":0.25},{"t":20,"s":"RG","v":0.5},{"t":20,"s":"RG","v":0.75},{"t":20,"s":"RG","v":1.0},{"t":20,"s":"RG","v":1.3},
{"t":20,"s":"RL","v":0},{"t":20,"s":"RL","v":-0.1},{"t":20,"s":"RL","v":-0.3},{"t":20,"s":"RL","v":-0.55},
{"t":20,"s":"SL","v":-0.35},{"t":20,"s":"SL","v":-0.6},{"t":20,"s":"SL","v":-0.85},{"t":20,"s":"SL","v":-1.1},{"t":20,"s":"SL","v":-1.3},{"t":20,"s":"SL","v":-1.6},{"t":20,"s":"SL","v":-2.6},
{"t":21,"s":"SG","v":1.9},{"t":21,"s":"SG","v":1.75},{"t":21,"s":"SG","v":1.55},{"t":21,"s":"SG","v":1.4},
{"t":21,"s":"NR","v":0.9},{"t":21,"s":"NR","v":0.75},{"t":21,"s":"NR","v":0.6},{"t":21,"s":"NR","v":0.45},
{"t":21,"s":"RG","v":0},{"t":21,"s":"RG","v":0.4},{"t":21,"s":"RG","v":0.7},{"t":21,"s":"RG","v":0.95},{"t":21,"s":"RG","v":1.2},
{"t":21,"s":"RL","v":0},{"t":21,"s":"RL","v":-0.2},{"t":21,"s":"RL","v":-0.5},
{"t":21,"s":"SL","v":-0.55},{"t":21,"s":"SL","v":-0.85},{"t":21,"s":"SL","v":-1.15},{"t":21,"s":"SL","v":-1.7},
{"t":22,"s":"SG","v":2.15},{"t":22,"s":"SG","v":1.6},{"t":22,"s":"SG","v":1.45},{"t":22,"s":"SG","v":1.3},
{"t":22,"s":"NR","v":1.0},{"t":22,"s":"NR","v":0.8},{"t":22,"s":"NR","v":0.65},{"t":22,"s":"NR","v":0.5},{"t":22,"s":"NR","v":0.35},
{"t":22,"s":"RG","v":0},{"t":22,"s":"RG","v":0.3},{"t":22,"s":"RG","v":0.6},{"t":22,"s":"RG","v":0.9},{"t":22,"s":"RG","v":1.15},
{"t":22,"s":"RL","v":0},{"t":22,"s":"RL","v":-0.15},{"t":22,"s":"RL","v":-0.35},{"t":22,"s":"RL","v":-0.65},
{"t":22,"s":"SL","v":-0.4},{"t":22,"s":"SL","v":-0.7},{"t":22,"s":"SL","v":-0.95},{"t":22,"s":"SL","v":-1.25},{"t":22,"s":"SL","v":-1.55},
{"t":23,"s":"SG","v":2.3},{"t":23,"s":"SG","v":1.7},{"t":23,"s":"SG","v":1.5},{"t":23,"s":"SG","v":1.3},
{"t":23,"s":"NR","v":0.95},{"t":23,"s":"NR","v":0.75},{"t":23,"s":"NR","v":0.55},{"t":23,"s":"NR","v":0.4},
{"t":23,"s":"RG","v":0},{"t":23,"s":"RG","v":0.35},{"t":23,"s":"RG","v":0.65},{"t":23,"s":"RG","v":1.0},
{"t":23,"s":"RL","v":0},{"t":23,"s":"RL","v":-0.25},{"t":23,"s":"RL","v":-0.5},
{"t":23,"s":"SL","v":-0.5},{"t":23,"s":"SL","v":-0.8},{"t":23,"s":"SL","v":-1.1},{"t":23,"s":"SL","v":-1.4},
{"t":25,"s":"SG","v":2.2},{"t":25,"s":"SG","v":1.9},{"t":25,"s":"SG","v":1.6},{"t":25,"s":"SG","v":1.4},{"t":25,"s":"SG","v":1.25},
{"t":25,"s":"NR","v":1.0},{"t":25,"s":"NR","v":0.85},{"t":25,"s":"NR","v":0.7},{"t":25,"s":"NR","v":0.55},{"t":25,"s":"NR","v":0.45},{"t":25,"s":"NR","v":0.35},
{"t":25,"s":"RG","v":0},{"t":25,"s":"RG","v":0.3},{"t":25,"s":"RG","v":0.55},{"t":25,"s":"RG","v":0.8},{"t":25,"s":"RG","v":1.05},{"t":25,"s":"RG","v":1.3},
{"t":25,"s":"RL","v":0},{"t":25,"s":"RL","v":-0.15},{"t":25,"s":"RL","v":-0.35},{"t":25,"s":"RL","v":-0.55},{"t":25,"s":"RL","v":-0.8},
{"t":25,"s":"SL","v":-0.4},{"t":25,"s":"SL","v":-0.7},{"t":25,"s":"SL","v":-1.0},{"t":25,"s":"SL","v":-1.3},{"t":25,"s":"SL","v":-1.6},{"t":25,"s":"SL","v":-2.1},
{"t":26,"s":"SG","v":1.8},{"t":26,"s":"SG","v":1.55},{"t":26,"s":"SG","v":1.35},
{"t":26,"s":"NR","v":0.9},{"t":26,"s":"NR","v":0.7},{"t":26,"s":"NR","v":0.5},
{"t":26,"s":"RG","v":0},{"t":26,"s":"RG","v":0.4},{"t":26,"s":"RG","v":0.75},{"t":26,"s":"RG","v":1.15},
{"t":26,"s":"RL","v":0},{"t":26,"s":"RL","v":-0.3},{"t":26,"s":"RL","v":-0.6},
{"t":26,"s":"SL","v":-0.6},{"t":26,"s":"SL","v":-0.95},{"t":26,"s":"SL","v":-1.3},
{"t":27,"s":"SG","v":1.6},{"t":27,"s":"SG","v":1.4},{"t":27,"s":"SG","v":1.2},
{"t":27,"s":"NR","v":0.8},{"t":27,"s":"NR","v":0.6},{"t":27,"s":"NR","v":0.45},
{"t":27,"s":"RG","v":0},{"t":27,"s":"RG","v":0.3},{"t":27,"s":"RG","v":0.65},{"t":27,"s":"RG","v":1.0},
{"t":27,"s":"RL","v":0},{"t":27,"s":"RL","v":-0.2},{"t":27,"s":"RL","v":-0.45},{"t":27,"s":"RL","v":-1.5},
{"t":27,"s":"SL","v":-0.5},{"t":27,"s":"SL","v":-0.8},{"t":27,"s":"SL","v":-1.2},{"t":27,"s":"SL","v":-1.55},
{"t":30,"s":"SG","v":1.95},{"t":30,"s":"SG","v":1.85},{"t":30,"s":"SG","v":1.7},
{"t":30,"s":"NR","v":1.67},{"t":30,"s":"NR","v":0.68},{"t":30,"s":"NR","v":0.3},{"t":30,"s":"NR","v":0.2},
{"t":30,"s":"RG","v":1.26},{"t":30,"s":"RG","v":1.5},{"t":30,"s":"RG","v":0.9},{"t":30,"s":"RG","v":1.1},
{"t":30,"s":"RL","v":0},{"t":30,"s":"RL","v":-0.25},{"t":30,"s":"RL","v":-0.4},{"t":30,"s":"RL","v":-0.8},{"t":30,"s":"RL","v":-1.05},{"t":30,"s":"RL","v":-1.5},{"t":30,"s":"RL","v":-1.7},
{"t":30,"s":"SL","v":-0.2},{"t":30,"s":"SL","v":-0.38},{"t":30,"s":"SL","v":-0.75},{"t":30,"s":"SL","v":-2.75},
{"t":11.5,"s":"SG","v":2.8},{"t":11.5,"s":"SL","v":-1.0},{"t":12.5,"s":"SG","v":3.0},{"t":12.5,"s":"NR","v":0.9},{"t":12.5,"s":"SL","v":-1.3},{"t":14.5,"s":"SG","v":2.4},{"t":14.5,"s":"RG","v":0.5},{"t":14.5,"s":"SL","v":-1.5},{"t":16.5,"s":"SG","v":1.7},{"t":16.5,"s":"SL","v":-2.5},{"t":21.5,"s":"SG","v":1.65},{"t":21.5,"s":"NR","v":0.65},{"t":24,"s":"SG","v":1.55},{"t":24,"s":"RG","v":0.7},{"t":24,"s":"SL","v":-0.9},{"t":24,"s":"RL","v":-0.3},{"t":28,"s":"SG","v":1.5},{"t":28,"s":"NR","v":0.55},{"t":28,"s":"RG","v":0.9},{"t":28,"s":"SL","v":-1.0},{"t":29,"s":"SG","v":1.45},{"t":29,"s":"RG","v":0.6},{"t":29,"s":"RL","v":-0.5}
],
"lines":[
{"s":"Survivors' ACS growth","ph":"cal","t":1,"v":2.47},{"s":"Survivors' ACS growth","ph":"cal","t":2,"v":2.42},{"s":"Survivors' ACS growth","ph":"cal","t":3,"v":2.37},{"s":"Survivors' ACS growth","ph":"cal","t":4,"v":2.325},{"s":"Survivors' ACS growth","ph":"cal","t":5,"v":2.28},{"s":"Survivors' ACS growth","ph":"cal","t":6,"v":2.235},{"s":"Survivors' ACS growth","ph":"cal","t":7,"v":2.19},{"s":"Survivors' ACS growth","ph":"cal","t":9,"v":2.09},{"s":"Survivors' ACS growth","ph":"cal","t":11,"v":1.99},{"s":"Survivors' ACS growth","ph":"cal","t":13,"v":1.9},{"s":"Survivors' ACS growth","ph":"cal","t":16,"v":1.77},{"s":"Survivors' ACS growth","ph":"cal","t":19,"v":1.66},{"s":"Survivors' ACS growth","ph":"cal","t":23,"v":1.54},{"s":"Survivors' ACS growth","ph":"cal","t":27,"v":1.44},{"s":"Survivors' ACS growth","ph":"cal","t":30,"v":1.38},
{"s":"Survivors' ACS growth","ph":"theo","t":30,"v":1.38},{"s":"Survivors' ACS growth","ph":"theo","t":34.6,"v":1.26},{"s":"Survivors' ACS growth","ph":"theo","t":38.6,"v":1.17},{"s":"Survivors' ACS growth","ph":"theo","t":44.7,"v":1.02},{"s":"Survivors' ACS growth","ph":"theo","t":49.8,"v":0.92},{"s":"Survivors' ACS growth","ph":"theo","t":58.5,"v":0.79},{"s":"Survivors' ACS growth","ph":"theo","t":65.2,"v":0.69},{"s":"Survivors' ACS growth","ph":"theo","t":76,"v":0.55},{"s":"Survivors' ACS growth","ph":"theo","t":84.1,"v":0.46},{"s":"Survivors' ACS growth","ph":"theo","t":99.4,"v":0.34},{"s":"Survivors' ACS growth","ph":"theo","t":110.9,"v":0.27},{"s":"Survivors' ACS growth","ph":"theo","t":131,"v":0.17},{"s":"Survivors' ACS growth","ph":"theo","t":148,"v":0.11},{"s":"Survivors' ACS growth","ph":"theo","t":178,"v":0.06},{"s":"Survivors' ACS growth","ph":"theo","t":201,"v":0.03},{"s":"Survivors' ACS growth","ph":"theo","t":241,"v":0.018},{"s":"Survivors' ACS growth","ph":"theo","t":271,"v":0.005},{"s":"Survivors' ACS growth","ph":"theo","t":300,"v":0.0},
{"s":"Survivors' ACS loss","ph":"cal","t":1,"v":-1.165},{"s":"Survivors' ACS loss","ph":"cal","t":2,"v":-1.16},{"s":"Survivors' ACS loss","ph":"cal","t":3,"v":-1.155},{"s":"Survivors' ACS loss","ph":"cal","t":5,"v":-1.14},{"s":"Survivors' ACS loss","ph":"cal","t":7,"v":-1.125},{"s":"Survivors' ACS loss","ph":"cal","t":10,"v":-1.095},{"s":"Survivors' ACS loss","ph":"cal","t":13,"v":-1.065},{"s":"Survivors' ACS loss","ph":"cal","t":16,"v":-1.04},{"s":"Survivors' ACS loss","ph":"cal","t":20,"v":-1.005},{"s":"Survivors' ACS loss","ph":"cal","t":25,"v":-0.975},{"s":"Survivors' ACS loss","ph":"cal","t":30,"v":-0.95},
{"s":"Survivors' ACS loss","ph":"theo","t":30,"v":-0.95},{"s":"Survivors' ACS loss","ph":"theo","t":33.4,"v":-0.935},{"s":"Survivors' ACS loss","ph":"theo","t":39.6,"v":-0.892},{"s":"Survivors' ACS loss","ph":"theo","t":45.2,"v":-0.857},{"s":"Survivors' ACS loss","ph":"theo","t":53.6,"v":-0.805},{"s":"Survivors' ACS loss","ph":"theo","t":61.2,"v":-0.763},{"s":"Survivors' ACS loss","ph":"theo","t":72.2,"v":-0.708},{"s":"Survivors' ACS loss","ph":"theo","t":82.3,"v":-0.66},{"s":"Survivors' ACS loss","ph":"theo","t":97.1,"v":-0.591},{"s":"Survivors' ACS loss","ph":"theo","t":110.9,"v":-0.535},{"s":"Survivors' ACS loss","ph":"theo","t":131.4,"v":-0.469},{"s":"Survivors' ACS loss","ph":"theo","t":149.4,"v":-0.41},{"s":"Survivors' ACS loss","ph":"theo","t":175.7,"v":-0.348},{"s":"Survivors' ACS loss","ph":"theo","t":200.9,"v":-0.286},{"s":"Survivors' ACS loss","ph":"theo","t":236.7,"v":-0.228},{"s":"Survivors' ACS loss","ph":"theo","t":268.7,"v":-0.176},{"s":"Survivors' ACS loss","ph":"theo","t":300,"v":-0.125},
{"s":"Recruits' ACS growth","ph":"cal","t":1,"v":0.055},{"s":"Recruits' ACS growth","ph":"cal","t":2,"v":0.11},{"s":"Recruits' ACS growth","ph":"cal","t":3,"v":0.175},{"s":"Recruits' ACS growth","ph":"cal","t":4,"v":0.235},{"s":"Recruits' ACS growth","ph":"cal","t":5,"v":0.285},{"s":"Recruits' ACS growth","ph":"cal","t":6,"v":0.33},{"s":"Recruits' ACS growth","ph":"cal","t":8,"v":0.415},{"s":"Recruits' ACS growth","ph":"cal","t":10,"v":0.485},{"s":"Recruits' ACS growth","ph":"cal","t":12,"v":0.55},{"s":"Recruits' ACS growth","ph":"cal","t":15,"v":0.64},{"s":"Recruits' ACS growth","ph":"cal","t":18,"v":0.725},{"s":"Recruits' ACS growth","ph":"cal","t":22,"v":0.825},{"s":"Recruits' ACS growth","ph":"cal","t":26,"v":0.905},{"s":"Recruits' ACS growth","ph":"cal","t":30,"v":0.965},
{"s":"Recruits' ACS growth","ph":"theo","t":30,"v":0.965},{"s":"Recruits' ACS growth","ph":"theo","t":31.1,"v":0.978},{"s":"Recruits' ACS growth","ph":"theo","t":36.8,"v":1.045},{"s":"Recruits' ACS growth","ph":"theo","t":42.1,"v":1.082},{"s":"Recruits' ACS growth","ph":"theo","t":49.8,"v":1.131},{"s":"Recruits' ACS growth","ph":"theo","t":56.9,"v":1.159},{"s":"Recruits' ACS growth","ph":"theo","t":67.5,"v":1.183},{"s":"Recruits' ACS growth","ph":"theo","t":77.1,"v":1.199},{"s":"Recruits' ACS growth","ph":"theo","t":91.9,"v":1.209},{"s":"Recruits' ACS growth","ph":"theo","t":104.4,"v":1.215},{"s":"Recruits' ACS growth","ph":"theo","t":125,"v":1.22},{"s":"Recruits' ACS growth","ph":"theo","t":200,"v":1.222},{"s":"Recruits' ACS growth","ph":"theo","t":300,"v":1.222},
{"s":"Recruits' ACS loss","ph":"cal","t":1,"v":-0.03},{"s":"Recruits' ACS loss","ph":"cal","t":2,"v":-0.05},{"s":"Recruits' ACS loss","ph":"cal","t":3,"v":-0.075},{"s":"Recruits' ACS loss","ph":"cal","t":4,"v":-0.1},{"s":"Recruits' ACS loss","ph":"cal","t":5,"v":-0.12},{"s":"Recruits' ACS loss","ph":"cal","t":6,"v":-0.14},{"s":"Recruits' ACS loss","ph":"cal","t":8,"v":-0.19},{"s":"Recruits' ACS loss","ph":"cal","t":11,"v":-0.265},{"s":"Recruits' ACS loss","ph":"cal","t":14,"v":-0.325},{"s":"Recruits' ACS loss","ph":"cal","t":18,"v":-0.39},{"s":"Recruits' ACS loss","ph":"cal","t":22,"v":-0.45},{"s":"Recruits' ACS loss","ph":"cal","t":26,"v":-0.505},{"s":"Recruits' ACS loss","ph":"cal","t":30,"v":-0.55},
{"s":"Recruits' ACS loss","ph":"theo","t":30,"v":-0.55},{"s":"Recruits' ACS loss","ph":"theo","t":32.2,"v":-0.581},{"s":"Recruits' ACS loss","ph":"theo","t":38.4,"v":-0.667},{"s":"Recruits' ACS loss","ph":"theo","t":43.4,"v":-0.729},{"s":"Recruits' ACS loss","ph":"theo","t":51.4,"v":-0.815},{"s":"Recruits' ACS loss","ph":"theo","t":57.6,"v":-0.882},{"s":"Recruits' ACS loss","ph":"theo","t":68.3,"v":-0.971},{"s":"Recruits' ACS loss","ph":"theo","t":77.1,"v":-1.048},{"s":"Recruits' ACS loss","ph":"theo","t":90.9,"v":-1.141},{"s":"Recruits' ACS loss","ph":"theo","t":102.4,"v":-1.203},{"s":"Recruits' ACS loss","ph":"theo","t":121.3,"v":-1.289},{"s":"Recruits' ACS loss","ph":"theo","t":136.9,"v":-1.348},{"s":"Recruits' ACS loss","ph":"theo","t":163.4,"v":-1.41},{"s":"Recruits' ACS loss","ph":"theo","t":184.5,"v":-1.452},{"s":"Recruits' ACS loss","ph":"theo","t":220,"v":-1.486},{"s":"Recruits' ACS loss","ph":"theo","t":251.6,"v":-1.518},{"s":"Recruits' ACS loss","ph":"theo","t":300,"v":-1.535},
{"s":"New recruits' ACS","ph":"cal","t":1,"v":1.04},{"s":"New recruits' ACS","ph":"cal","t":2,"v":0.98},{"s":"New recruits' ACS","ph":"cal","t":3,"v":0.905},{"s":"New recruits' ACS","ph":"cal","t":4,"v":0.84},{"s":"New recruits' ACS","ph":"cal","t":5,"v":0.785},{"s":"New recruits' ACS","ph":"cal","t":6,"v":0.735},{"s":"New recruits' ACS","ph":"cal","t":7,"v":0.69},{"s":"New recruits' ACS","ph":"cal","t":8,"v":0.65},{"s":"New recruits' ACS","ph":"cal","t":10,"v":0.585},{"s":"New recruits' ACS","ph":"cal","t":12,"v":0.535},{"s":"New recruits' ACS","ph":"cal","t":15,"v":0.475},{"s":"New recruits' ACS","ph":"cal","t":18,"v":0.43},{"s":"New recruits' ACS","ph":"cal","t":22,"v":0.385},{"s":"New recruits' ACS","ph":"cal","t":26,"v":0.355},{"s":"New recruits' ACS","ph":"cal","t":30,"v":0.335},
{"s":"New recruits' ACS","ph":"theo","t":30,"v":0.335},{"s":"New recruits' ACS","ph":"theo","t":32.2,"v":0.326},{"s":"New recruits' ACS","ph":"theo","t":38,"v":0.308},{"s":"New recruits' ACS","ph":"theo","t":45,"v":0.302},{"s":"New recruits' ACS","ph":"theo","t":60,"v":0.3},{"s":"New recruits' ACS","ph":"theo","t":300,"v":0.298}
],
"zero":[{"t":0.796,"t2":377,"v":0}],
"arrows":[{"t":1,"t2":30,"v":-2.52},{"t":35,"t2":300,"v":-2.52}],
"heads":[{"t":1,"v":-2.52,"dir":"left"},{"t":30,"v":-2.52,"dir":"right"},{"t":35,"v":-2.52,"dir":"left"},{"t":300,"v":-2.52,"dir":"right"}],
"notes":[{"t":5,"v":-2.345,"label":"Calibration interval"},{"t":100,"v":-2.345,"label":"Theoretical behavior"}]
},
"layer":[
{"data":{"name":"pts"},
 "mark":{"type":"circle","size":180,"opacity":0.15,"clip":true},
 "encoding":{
  "color":{"field":"s","type":"nominal","scale":{"domain":["SG","SL","RG","RL","NR"],"range":["#66CD00","#006400","#FF8C00","#B8860B","#A52A2A"]},"legend":null}
 }},
{"data":{"name":"zero"},
 "mark":{"type":"rule","color":"black","strokeWidth":1.8,"clip":true},
 "encoding":{"x2":{"field":"t2"}}},
{"data":{"name":"lines"},
 "transform":[{"filter":"datum.ph === 'theo'"}],
 "mark":{"type":"line","strokeWidth":4.5,"strokeCap":"round","strokeDash":[15.5,26.7],"strokeDashOffset":6.7,"interpolate":"monotone","clip":true},
 "encoding":{
  "color":{"field":"s","type":"nominal","scale":{"domain":["Survivors' ACS growth","Survivors' ACS loss","Recruits' ACS growth","Recruits' ACS loss","New recruits' ACS"],"range":["#66CD00","#006400","#FF8C00","#B8860B","#A52A2A"]},"legend":null}
 }},
{"data":{"name":"lines"},
 "transform":[{"filter":"datum.ph === 'cal'"}],
 "mark":{"type":"line","strokeWidth":4.5,"strokeCap":"round","interpolate":"monotone","clip":true},
 "encoding":{
  "color":{"field":"s","type":"nominal","scale":{"domain":["Survivors' ACS growth","Survivors' ACS loss","Recruits' ACS growth","Recruits' ACS loss","New recruits' ACS"],"range":["#66CD00","#006400","#FF8C00","#B8860B","#A52A2A"]},
    "legend":{"title":null,"orient":"top-right","offset":0,"padding":20,"fillColor":"white","strokeColor":"black","symbolType":"M-0.2,0L5.4,0","symbolSize":400,"symbolStrokeWidth":4.5,"labelOffset":55,"labelFontSize":28,"labelFont":"Liberation Sans","labelColor":"black","labelLimit":500,"rowPadding":7}}
 }},
{"data":{"name":"arrows"},
 "mark":{"type":"rule","color":"black","strokeWidth":1.5},
 "encoding":{"x2":{"field":"t2"}}},
{"data":{"name":"heads"},
 "mark":{"type":"point","size":830,"filled":false,"color":"black","strokeWidth":1.5,"opacity":1},
 "encoding":{
  "shape":{"field":"dir","type":"nominal","scale":{"domain":["left","right"],"range":["M1,-0.59L0,0L1,0.59","M-1,-0.59L0,0L-1,0.59"]},"legend":null}
 }},
{"data":{"name":"notes"},
 "mark":{"type":"text","fontSize":28,"font":"Liberation Sans","color":"black","align":"center","baseline":"alphabetic"},
 "encoding":{"text":{"field":"label"}}}
],
"resolve":{"scale":{"color":"independent"}}
}
